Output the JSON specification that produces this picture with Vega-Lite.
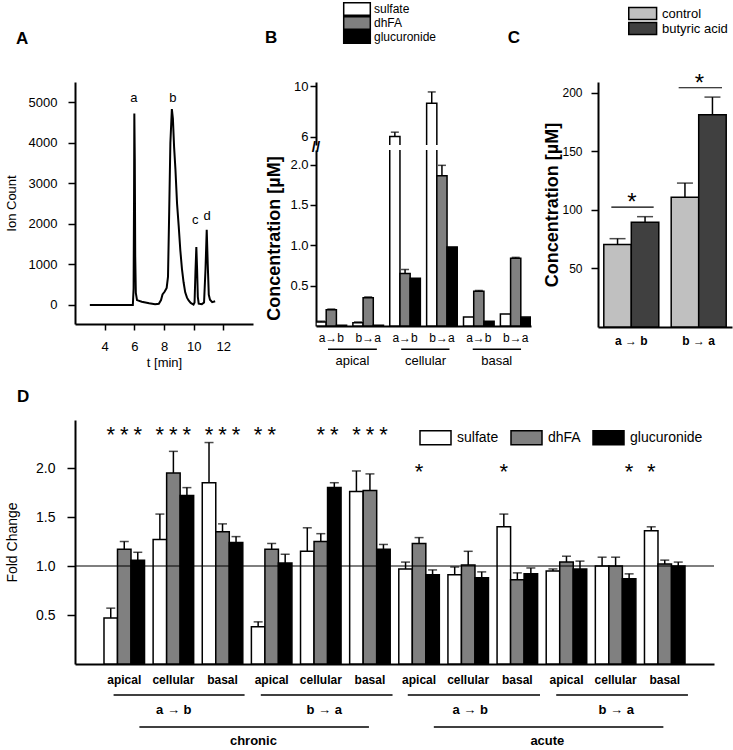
{
  "$schema": "https://vega.github.io/schema/vega-lite/v6.json",
  "padding": {"left": 5, "top": 2, "right": 2, "bottom": 2},
  "datasets": {
    "A": [
      {"t":3.0,"ion":0},{"t":5.9,"ion":0},{"t":5.95,"ion":400},{"t":5.98,"ion":2600},{"t":6.0,"ion":4720},{"t":6.03,"ion":3600},{"t":6.06,"ion":1200},{"t":6.1,"ion":300},{"t":6.18,"ion":120},{"t":6.5,"ion":80},{"t":7.0,"ion":40},{"t":7.4,"ion":15},{"t":7.65,"ion":30},{"t":7.8,"ion":120},{"t":7.9,"ion":260},{"t":8.05,"ion":330},{"t":8.18,"ion":420},{"t":8.27,"ion":700},{"t":8.35,"ion":2300},{"t":8.43,"ion":4000},{"t":8.53,"ion":4830},{"t":8.6,"ion":4600},{"t":8.68,"ion":3900},{"t":8.77,"ion":3350},{"t":8.88,"ion":2500},{"t":8.99,"ion":1950},{"t":9.1,"ion":1350},{"t":9.21,"ion":890},{"t":9.32,"ion":560},{"t":9.43,"ion":310},{"t":9.55,"ion":180},{"t":9.66,"ion":110},{"t":9.8,"ion":50},{"t":9.99,"ion":10},{"t":10.06,"ion":60},{"t":10.12,"ion":800},{"t":10.18,"ion":1430},{"t":10.23,"ion":900},{"t":10.28,"ion":200},{"t":10.34,"ion":30},{"t":10.55,"ion":20},{"t":10.7,"ion":60},{"t":10.8,"ion":900},{"t":10.88,"ion":1855},{"t":10.95,"ion":1000},{"t":11.02,"ion":250},{"t":11.1,"ion":130},{"t":11.25,"ion":70},{"t":11.45,"ion":90}
    ],
    "Alab": [
      {"t":5.97,"ion":5000,"lab":"a"},{"t":8.6,"ion":5000,"lab":"b"},{"t":10.11,"ion":1995,"lab":"c"},{"t":10.91,"ion":2100,"lab":"d"}
    ],
    "B": [
      {"cat":"apical|a→b","s":"sulfate","v":0.05,"hi":0.06},
      {"cat":"apical|a→b","s":"dhFA","v":0.20,"hi":0.21},
      {"cat":"apical|a→b","s":"glucuronide","v":0.01,"hi":0.01},
      {"cat":"apical|b→a","s":"sulfate","v":0.04,"hi":0.05},
      {"cat":"apical|b→a","s":"dhFA","v":0.35,"hi":0.36},
      {"cat":"apical|b→a","s":"glucuronide","v":0.01,"hi":0.01},
      {"cat":"cellular|a→b","s":"sulfate","v":6.0,"hi":6.35},
      {"cat":"cellular|a→b","s":"dhFA","v":0.65,"hi":0.70},
      {"cat":"cellular|a→b","s":"glucuronide","v":0.59,"hi":0.59},
      {"cat":"cellular|b→a","s":"sulfate","v":8.65,"hi":9.55},
      {"cat":"cellular|b→a","s":"dhFA","v":1.86,"hi":1.99},
      {"cat":"cellular|b→a","s":"glucuronide","v":0.98,"hi":0.98},
      {"cat":"basal|a→b","s":"sulfate","v":0.11,"hi":0.11},
      {"cat":"basal|a→b","s":"dhFA","v":0.43,"hi":0.44},
      {"cat":"basal|a→b","s":"glucuronide","v":0.06,"hi":0.06},
      {"cat":"basal|b→a","s":"sulfate","v":0.15,"hi":0.15},
      {"cat":"basal|b→a","s":"dhFA","v":0.84,"hi":0.85},
      {"cat":"basal|b→a","s":"glucuronide","v":0.11,"hi":0.11}
    ],
    "Bann": [
      {"u1":0.325,"u2":1.65,"y":-0.288,"u":0.99,"ty":-0.43,"txt":"apical"},
      {"u1":2.31,"u2":3.62,"y":-0.288,"u":2.97,"ty":-0.43,"txt":"cellular"},
      {"u1":4.25,"u2":5.56,"y":-0.288,"u":4.9,"ty":-0.43,"txt":"basal"}
    ],
    "C": [
      {"g":"a → b","s":"control","v":70.5,"hi":75.5},
      {"g":"a → b","s":"butyric acid","v":89.5,"hi":94.3},
      {"g":"b → a","s":"control","v":111,"hi":123},
      {"g":"b → a","s":"butyric acid","v":181.5,"hi":196.5}
    ],
    "Cann": [
      {"u1":0.199,"u2":0.831,"y":102.4,"u":0.507,"sy":112},
      {"u1":1.204,"u2":1.851,"y":204.5,"u":1.512,"sy":214}
    ],
    "D": [
      {"c":"chronic|a→b|apical","s":"sulfate","v":0.47,"hi":0.57},
      {"c":"chronic|a→b|apical","s":"dhFA","v":1.17,"hi":1.25},
      {"c":"chronic|a→b|apical","s":"glucuronide","v":1.06,"hi":1.14},
      {"c":"chronic|a→b|cellular","s":"sulfate","v":1.27,"hi":1.53},
      {"c":"chronic|a→b|cellular","s":"dhFA","v":1.95,"hi":2.17},
      {"c":"chronic|a→b|cellular","s":"glucuronide","v":1.72,"hi":1.80},
      {"c":"chronic|a→b|basal","s":"sulfate","v":1.85,"hi":2.26},
      {"c":"chronic|a→b|basal","s":"dhFA","v":1.35,"hi":1.43},
      {"c":"chronic|a→b|basal","s":"glucuronide","v":1.24,"hi":1.30},
      {"c":"chronic|b→a|apical","s":"sulfate","v":0.38,"hi":0.43},
      {"c":"chronic|b→a|apical","s":"dhFA","v":1.17,"hi":1.23},
      {"c":"chronic|b→a|apical","s":"glucuronide","v":1.03,"hi":1.12},
      {"c":"chronic|b→a|cellular","s":"sulfate","v":1.15,"hi":1.39},
      {"c":"chronic|b→a|cellular","s":"dhFA","v":1.25,"hi":1.33},
      {"c":"chronic|b→a|cellular","s":"glucuronide","v":1.80,"hi":1.85},
      {"c":"chronic|b→a|basal","s":"sulfate","v":1.76,"hi":1.97},
      {"c":"chronic|b→a|basal","s":"dhFA","v":1.77,"hi":1.94},
      {"c":"chronic|b→a|basal","s":"glucuronide","v":1.17,"hi":1.22},
      {"c":"acute|a→b|apical","s":"sulfate","v":0.97,"hi":1.04},
      {"c":"acute|a→b|apical","s":"dhFA","v":1.23,"hi":1.29},
      {"c":"acute|a→b|apical","s":"glucuronide","v":0.91,"hi":0.96},
      {"c":"acute|a→b|cellular","s":"sulfate","v":0.91,"hi":0.99},
      {"c":"acute|a→b|cellular","s":"dhFA","v":1.01,"hi":1.15},
      {"c":"acute|a→b|cellular","s":"glucuronide","v":0.88,"hi":0.94},
      {"c":"acute|a→b|basal","s":"sulfate","v":1.40,"hi":1.53},
      {"c":"acute|a→b|basal","s":"dhFA","v":0.86,"hi":0.93},
      {"c":"acute|a→b|basal","s":"glucuronide","v":0.92,"hi":0.98},
      {"c":"acute|b→a|apical","s":"sulfate","v":0.95,"hi":0.97},
      {"c":"acute|b→a|apical","s":"dhFA","v":1.04,"hi":1.10},
      {"c":"acute|b→a|apical","s":"glucuronide","v":0.97,"hi":1.05},
      {"c":"acute|b→a|cellular","s":"sulfate","v":1.00,"hi":1.09},
      {"c":"acute|b→a|cellular","s":"dhFA","v":1.00,"hi":1.09},
      {"c":"acute|b→a|cellular","s":"glucuronide","v":0.87,"hi":0.92},
      {"c":"acute|b→a|basal","s":"sulfate","v":1.36,"hi":1.40},
      {"c":"acute|b→a|basal","s":"dhFA","v":1.02,"hi":1.06},
      {"c":"acute|b→a|basal","s":"glucuronide","v":1.00,"hi":1.04}
    ],
    "Dstar": [
      {"c":"chronic|a→b|apical","s":"sulfate","v":2.41},
      {"c":"chronic|a→b|apical","s":"dhFA","v":2.41},
      {"c":"chronic|a→b|apical","s":"glucuronide","v":2.41},
      {"c":"chronic|a→b|cellular","s":"sulfate","v":2.41},
      {"c":"chronic|a→b|cellular","s":"dhFA","v":2.41},
      {"c":"chronic|a→b|cellular","s":"glucuronide","v":2.41},
      {"c":"chronic|a→b|basal","s":"sulfate","v":2.41},
      {"c":"chronic|a→b|basal","s":"dhFA","v":2.41},
      {"c":"chronic|a→b|basal","s":"glucuronide","v":2.41},
      {"c":"chronic|b→a|apical","s":"sulfate","v":2.41},
      {"c":"chronic|b→a|apical","s":"dhFA","v":2.41},
      {"c":"chronic|b→a|cellular","s":"dhFA","v":2.41},
      {"c":"chronic|b→a|cellular","s":"glucuronide","v":2.41},
      {"c":"chronic|b→a|basal","s":"sulfate","v":2.41},
      {"c":"chronic|b→a|basal","s":"dhFA","v":2.41},
      {"c":"chronic|b→a|basal","s":"glucuronide","v":2.41},
      {"c":"acute|a→b|apical","s":"dhFA","v":2.03},
      {"c":"acute|a→b|basal","s":"sulfate","v":2.03},
      {"c":"acute|b→a|cellular","s":"glucuronide","v":2.03},
      {"c":"acute|b→a|basal","s":"sulfate","v":2.03}
    ],
    "Dline": [
      {"u1":0.785,"u2":3.45,"y":-0.316},
      {"u1":3.78,"u2":6.46,"y":-0.316},
      {"u1":6.77,"u2":9.46,"y":-0.316},
      {"u1":9.79,"u2":12.47,"y":-0.316},
      {"u1":1.31,"u2":5.98,"y":-0.643},
      {"u1":7.30,"u2":11.97,"y":-0.643}
    ],
    "Dtxt": [
      {"u":2.01,"y":-0.47,"txt":"a → b"},
      {"u":5.07,"y":-0.47,"txt":"b → a"},
      {"u":8.04,"y":-0.47,"txt":"a → b"},
      {"u":11.01,"y":-0.47,"txt":"b → a"},
      {"u":3.63,"y":-0.786,"txt":"chronic"},
      {"u":9.61,"y":-0.786,"txt":"acute"}
    ]
  },
  "config": {
    "font": "Liberation Sans",
    "view": {"stroke": null},
    "axis": {"domainColor": "black", "domainWidth": 2, "tickColor": "black", "tickWidth": 1.5, "tickSize": 6, "labelColor": "black", "titleColor": "black", "grid": false, "labelFont": "Liberation Sans", "titleFont": "Liberation Sans", "titleFontWeight": "normal", "labelFontSize": 13, "titleFontSize": 13, "labelOverlap": false},
    "legend": {"labelFont": "Liberation Sans", "labelColor": "black", "labelFontSize": 13},
    "title": {"font": "Liberation Sans", "fontSize": 17, "fontWeight": "bold", "color": "black", "anchor": "start", "frame": "group"},
    "text": {"font": "Liberation Sans", "color": "black"}
  },
  "spacing": 19,
  "resolve": {"scale": {"color": "independent", "xOffset": "independent"}, "legend": {"color": "independent"}},
  "vconcat": [
    {
      "spacing": 12,
      "resolve": {"scale": {"color": "independent", "xOffset": "independent"}, "legend": {"color": "independent"}},
      "hconcat": [
        {
          "width": 178, "height": 242,
          "title": {"text": "A", "dx": -59, "offset": 34},
          "layer": [
            {"data": {"name": "A"}, "mark": {"type": "line", "color": "black", "strokeWidth": 2},
             "encoding": {
               "x": {"field": "t", "type": "quantitative", "scale": {"domain": [2, 14], "nice": false}, "axis": {"values": [4,6,8,10,12], "title": "t [min]", "labelPadding": 10, "titlePadding": 3}},
               "y": {"field": "ion", "type": "quantitative", "scale": {"domain": [-470, 5500], "nice": false}, "axis": {"values": [0,1000,2000,3000,4000,5000], "format": "d", "title": "Ion Count", "tickSize": 7, "labelPadding": 11, "titlePadding": 10}}
             }},
            {"data": {"name": "Alab"}, "mark": {"type": "text", "fontSize": 13, "baseline": "alphabetic"},
             "encoding": {
               "x": {"field": "t", "type": "quantitative"},
               "y": {"field": "ion", "type": "quantitative"},
               "text": {"field": "lab"}
             }}
          ]
        },
        {
          "spacing": 5,
          "bounds": "flush",
          "title": {"text": "C", "anchor": "end", "frame": "bounds", "dx": -11, "offset": -45},
          "resolve": {"scale": {"color": "independent"}, "legend": {"color": "independent"}},
          "vconcat": [
            {
              "width": 215, "height": 63,
              "title": {"text": "B", "dx": -51, "offset": -45},
              "resolve": {"scale": {"x": "independent", "y": "independent"}},
              "layer": [
                {
                  "data": {"name": "B"},
                  "layer": [
                    {"mark": {"type": "bar", "stroke": "black", "strokeWidth": 1.5, "clip": true},
                     "encoding": {
                       "x": {"field": "cat", "type": "nominal", "sort": ["apical|a→b","apical|b→a","cellular|a→b","cellular|b→a","basal|a→b","basal|b→a"], "scale": {"paddingInner": 0.17, "paddingOuter": 0}, "axis": null},
                       "xOffset": {"field": "s", "type": "nominal", "sort": ["sulfate","dhFA","glucuronide"]},
                       "y": {"field": "v", "type": "quantitative", "scale": {"domain": [5.33, 10.34], "nice": false, "zero": false}, "axis": {"values": [6,8,10], "title": null, "labelPadding": 2}},
                       "color": {"field": "s", "type": "nominal", "scale": {"domain": ["sulfate","dhFA","glucuronide"], "range": ["white","#808080","black"]},
                         "legend": {"orient": "none", "legendX": 26, "legendY": -80, "title": null, "direction": "vertical", "symbolType": "M-0.9,-0.9H2.9V0.9H-0.9Z", "symbolSize": 196, "symbolStrokeColor": "black", "symbolStrokeWidth": 1.5, "labelFontSize": 12, "labelOffset": 16, "rowPadding": 0, "clipHeight": 14}}
                     }},
                    {"transform": [{"filter": "datum.hi > datum.v"}], "mark": {"type": "rule", "strokeWidth": 1.5, "color": "black", "clip": true},
                     "encoding": {
                       "x": {"field": "cat", "type": "nominal", "sort": ["apical|a→b","apical|b→a","cellular|a→b","cellular|b→a","basal|a→b","basal|b→a"]},
                       "xOffset": {"field": "s", "type": "nominal", "sort": ["sulfate","dhFA","glucuronide"]},
                       "y": {"field": "v", "type": "quantitative"},
                       "y2": {"field": "hi"}
                     }},
                    {"transform": [{"filter": "datum.hi > datum.v"}], "mark": {"type": "tick", "size": 8, "thickness": 1.5, "orient": "horizontal", "color": "black", "clip": true},
                     "encoding": {
                       "x": {"field": "cat", "type": "nominal", "sort": ["apical|a→b","apical|b→a","cellular|a→b","cellular|b→a","basal|a→b","basal|b→a"]},
                       "xOffset": {"field": "s", "type": "nominal", "sort": ["sulfate","dhFA","glucuronide"]},
                       "y": {"field": "hi", "type": "quantitative"}
                     }}
                  ]
                },
                {
                  "data": {"values": [{"u": 0, "y": 5.33}]},
                  "mark": {"type": "text", "text": "//", "fontSize": 15, "fontWeight": "bold", "baseline": "middle", "dy": 2},
                  "encoding": {
                    "x": {"field": "u", "type": "quantitative", "scale": {"domain": [0, 5.83], "nice": false, "zero": false}, "axis": null},
                    "y": {"field": "y", "type": "quantitative", "scale": {"domain": [5.33, 10.34], "nice": false, "zero": false}, "axis": null}
                  }
                }
              ]
            },
            {
              "width": 215, "height": 176,
              "resolve": {"scale": {"x": "independent", "y": "independent"}},
              "layer": [
                {
                  "data": {"name": "B"},
                  "layer": [
                    {"mark": {"type": "bar", "stroke": "black", "strokeWidth": 1.5, "clip": true},
                     "encoding": {
                       "x": {"field": "cat", "type": "nominal", "sort": ["apical|a→b","apical|b→a","cellular|a→b","cellular|b→a","basal|a→b","basal|b→a"], "scale": {"paddingInner": 0.17, "paddingOuter": 0}, "axis": {"title": null, "labelExpr": "split(datum.value, '|')[1]", "ticks": false, "labelPadding": 6, "labelFontSize": 12, "labelAngle": 0}},
                       "xOffset": {"field": "s", "type": "nominal", "sort": ["sulfate","dhFA","glucuronide"]},
                       "y": {"field": "v", "type": "quantitative", "scale": {"domain": [0, 2.18], "nice": false}, "axis": {"values": [0.5,1,1.5,2], "format": ".1f", "title": "Concentration [µM]", "titleFontWeight": "bold", "titleFontSize": 18, "labelPadding": 2, "titlePadding": 6}},
                       "color": {"field": "s", "type": "nominal", "scale": {"domain": ["sulfate","dhFA","glucuronide"], "range": ["white","#808080","black"]}, "legend": null}
                     }},
                    {"transform": [{"filter": "datum.hi > datum.v"}], "mark": {"type": "rule", "strokeWidth": 1.5, "color": "black", "clip": true},
                     "encoding": {
                       "x": {"field": "cat", "type": "nominal", "sort": ["apical|a→b","apical|b→a","cellular|a→b","cellular|b→a","basal|a→b","basal|b→a"]},
                       "xOffset": {"field": "s", "type": "nominal", "sort": ["sulfate","dhFA","glucuronide"]},
                       "y": {"field": "v", "type": "quantitative"},
                       "y2": {"field": "hi"}
                     }},
                    {"transform": [{"filter": "datum.hi > datum.v"}], "mark": {"type": "tick", "size": 8, "thickness": 1.5, "orient": "horizontal", "color": "black", "clip": true},
                     "encoding": {
                       "x": {"field": "cat", "type": "nominal", "sort": ["apical|a→b","apical|b→a","cellular|a→b","cellular|b→a","basal|a→b","basal|b→a"]},
                       "xOffset": {"field": "s", "type": "nominal", "sort": ["sulfate","dhFA","glucuronide"]},
                       "y": {"field": "hi", "type": "quantitative"}
                     }}
                  ]
                },
                {
                  "data": {"name": "Bann"},
                  "layer": [
                    {"mark": {"type": "rule", "strokeWidth": 1.5, "color": "black"},
                     "encoding": {
                       "x": {"field": "u1", "type": "quantitative", "scale": {"domain": [0, 5.83], "nice": false, "zero": false}, "axis": null},
                       "x2": {"field": "u2"},
                       "y": {"field": "y", "type": "quantitative", "scale": {"domain": [0, 2.18], "nice": false}, "axis": null}
                     }},
                    {"mark": {"type": "text", "fontSize": 13, "baseline": "middle"},
                     "encoding": {
                       "x": {"field": "u", "type": "quantitative", "scale": {"domain": [0, 5.83], "nice": false, "zero": false}, "axis": null},
                       "y": {"field": "ty", "type": "quantitative", "scale": {"domain": [0, 2.18], "nice": false}, "axis": null},
                       "text": {"field": "txt"}
                     }}
                  ]
                }
              ]
            }
          ]
        },
        {
          "width": 134, "height": 245,
          "resolve": {"scale": {"x": "independent", "y": "independent"}},
          "layer": [
            {
              "data": {"name": "C"},
              "layer": [
                {"mark": {"type": "bar", "stroke": "black", "strokeWidth": 1.5},
                 "encoding": {
                   "x": {"field": "g", "type": "nominal", "sort": ["a → b","b → a"], "scale": {"paddingInner": 0.184, "paddingOuter": 0.086}, "axis": {"title": null, "ticks": false, "labelPadding": 8, "labelFontSize": 12, "labelFontWeight": "bold", "labelAngle": 0}},
                   "xOffset": {"field": "s", "type": "nominal", "sort": ["control","butyric acid"]},
                   "y": {"field": "v", "type": "quantitative", "scale": {"domain": [0, 209.4], "nice": false}, "axis": {"values": [50,100,150,200], "title": "Concentration [µM]", "titleFontWeight": "bold", "titleFontSize": 18, "labelPadding": 9, "titlePadding": 0, "tickSize": 7, "labelFontSize": 12}},
                   "color": {"field": "s", "type": "nominal", "scale": {"domain": ["control","butyric acid"], "range": ["#c0c0c0","#404040"]},
                     "legend": {"orient": "none", "legendX": 29, "legendY": -76, "title": null, "direction": "vertical", "symbolType": "M-0.88,-0.92H3.4V0.92H-0.88Z", "symbolSize": 169, "symbolStrokeColor": "black", "symbolStrokeWidth": 1.5, "labelFontSize": 13, "labelOffset": 20, "rowPadding": 0, "clipHeight": 15}}
                 }},
                {"mark": {"type": "rule", "strokeWidth": 1.5, "color": "black"},
                 "encoding": {
                   "x": {"field": "g", "type": "nominal", "sort": ["a → b","b → a"]},
                   "xOffset": {"field": "s", "type": "nominal", "sort": ["control","butyric acid"]},
                   "y": {"field": "v", "type": "quantitative"},
                   "y2": {"field": "hi"}
                 }},
                {"mark": {"type": "tick", "size": 16, "thickness": 1.5, "orient": "horizontal", "color": "black"},
                 "encoding": {
                   "x": {"field": "g", "type": "nominal", "sort": ["a → b","b → a"]},
                   "xOffset": {"field": "s", "type": "nominal", "sort": ["control","butyric acid"]},
                   "y": {"field": "hi", "type": "quantitative"}
                 }}
              ]
            },
            {
              "data": {"name": "Cann"},
              "layer": [
                {"mark": {"type": "rule", "strokeWidth": 1.2, "color": "black"},
                 "encoding": {
                   "x": {"field": "u1", "type": "quantitative", "scale": {"domain": [0, 2], "nice": false, "zero": false}, "axis": null},
                   "x2": {"field": "u2"},
                   "y": {"field": "y", "type": "quantitative", "scale": {"domain": [0, 209.4], "nice": false}, "axis": null}
                 }},
                {"mark": {"type": "text", "fontSize": 24, "baseline": "middle", "dy": 7, "text": "*"},
                 "encoding": {
                   "x": {"field": "u", "type": "quantitative", "scale": {"domain": [0, 2], "nice": false, "zero": false}, "axis": null},
                   "y": {"field": "sy", "type": "quantitative", "scale": {"domain": [0, 209.4], "nice": false}, "axis": null}
                 }}
              ]
            }
          ]
        }
      ]
    },
    {
      "width": 639, "height": 244,
      "title": {"text": "D", "dx": -58, "offset": 14},
      "resolve": {"scale": {"x": "independent", "y": "independent"}},
      "layer": [
        {
          "layer": [
            {"data": {"name": "D"}, "mark": {"type": "bar", "stroke": "black", "strokeWidth": 1.5},
             "encoding": {
               "x": {"field": "c", "type": "nominal", "sort": ["chronic|a→b|apical","chronic|a→b|cellular","chronic|a→b|basal","chronic|b→a|apical","chronic|b→a|cellular","chronic|b→a|basal","acute|a→b|apical","acute|a→b|cellular","acute|a→b|basal","acute|b→a|apical","acute|b→a|cellular","acute|b→a|basal"], "scale": {"paddingInner": 0.175, "paddingOuter": 0.59}, "axis": {"title": null, "labelExpr": "split(datum.value, '|')[2]", "ticks": false, "labelPadding": 10, "labelFontSize": 12, "labelFontWeight": "bold", "labelAngle": 0}},
               "xOffset": {"field": "s", "type": "nominal", "sort": ["sulfate","dhFA","glucuronide"]},
               "y": {"field": "v", "type": "quantitative", "scale": {"domain": [0, 2.49], "nice": false}, "axis": {"values": [0.5,1,1.5,2], "format": ".1f", "title": "Fold Change", "titleFontSize": 14, "labelFontSize": 14, "tickSize": 8, "labelPadding": 12, "titlePadding": 16}},
               "color": {"field": "s", "type": "nominal", "scale": {"domain": ["sulfate","dhFA","glucuronide"], "range": ["white","#808080","black"]},
                 "legend": {"orient": "none", "legendX": 344, "legendY": 1, "title": null, "direction": "horizontal", "symbolType": "M-1,-0.45H1V0.45H-1Z", "symbolSize": 961, "symbolStrokeColor": "black", "symbolStrokeWidth": 1.5, "labelFontSize": 14, "labelOffset": 5, "columnPadding": 9}}
             }},
            {"data": {"name": "D"}, "transform": [{"filter": "datum.hi > datum.v"}], "mark": {"type": "rule", "strokeWidth": 1.5, "color": "black"},
             "encoding": {
               "x": {"field": "c", "type": "nominal", "sort": ["chronic|a→b|apical","chronic|a→b|cellular","chronic|a→b|basal","chronic|b→a|apical","chronic|b→a|cellular","chronic|b→a|basal","acute|a→b|apical","acute|a→b|cellular","acute|a→b|basal","acute|b→a|apical","acute|b→a|cellular","acute|b→a|basal"]},
               "xOffset": {"field": "s", "type": "nominal", "sort": ["sulfate","dhFA","glucuronide"]},
               "y": {"field": "v", "type": "quantitative"},
               "y2": {"field": "hi"}
             }},
            {"data": {"name": "D"}, "transform": [{"filter": "datum.hi > datum.v"}], "mark": {"type": "tick", "size": 9, "thickness": 1.5, "orient": "horizontal", "color": "black"},
             "encoding": {
               "x": {"field": "c", "type": "nominal", "sort": ["chronic|a→b|apical","chronic|a→b|cellular","chronic|a→b|basal","chronic|b→a|apical","chronic|b→a|cellular","chronic|b→a|basal","acute|a→b|apical","acute|a→b|cellular","acute|a→b|basal","acute|b→a|apical","acute|b→a|cellular","acute|b→a|basal"]},
               "xOffset": {"field": "s", "type": "nominal", "sort": ["sulfate","dhFA","glucuronide"]},
               "y": {"field": "hi", "type": "quantitative"}
             }},
            {"data": {"values": [{"v": 1}]}, "mark": {"type": "rule", "strokeWidth": 1.2, "color": "black"},
             "encoding": {"y": {"field": "v", "type": "quantitative"}}},
            {"data": {"name": "Dstar"}, "mark": {"type": "text", "fontSize": 22, "baseline": "middle", "dy": 7, "text": "*"},
             "encoding": {
               "x": {"field": "c", "type": "nominal", "sort": ["chronic|a→b|apical","chronic|a→b|cellular","chronic|a→b|basal","chronic|b→a|apical","chronic|b→a|cellular","chronic|b→a|basal","acute|a→b|apical","acute|a→b|cellular","acute|a→b|basal","acute|b→a|apical","acute|b→a|cellular","acute|b→a|basal"]},
               "xOffset": {"field": "s", "type": "nominal", "sort": ["sulfate","dhFA","glucuronide"]},
               "y": {"field": "v", "type": "quantitative"}
             }}
          ]
        },
        {
          "layer": [
            {"data": {"name": "Dline"}, "mark": {"type": "rule", "strokeWidth": 1.5, "color": "black"},
             "encoding": {
               "x": {"field": "u1", "type": "quantitative", "scale": {"domain": [0, 13], "nice": false, "zero": false}, "axis": null},
               "x2": {"field": "u2"},
               "y": {"field": "y", "type": "quantitative", "scale": {"domain": [0, 2.49], "nice": false}, "axis": null}
             }},
            {"data": {"name": "Dtxt"}, "mark": {"type": "text", "fontSize": 13, "fontWeight": "bold", "baseline": "middle"},
             "encoding": {
               "x": {"field": "u", "type": "quantitative", "scale": {"domain": [0, 13], "nice": false, "zero": false}, "axis": null},
               "y": {"field": "y", "type": "quantitative", "scale": {"domain": [0, 2.49], "nice": false}, "axis": null},
               "text": {"field": "txt"}
             }}
          ]
        }
      ]
    }
  ]
}
